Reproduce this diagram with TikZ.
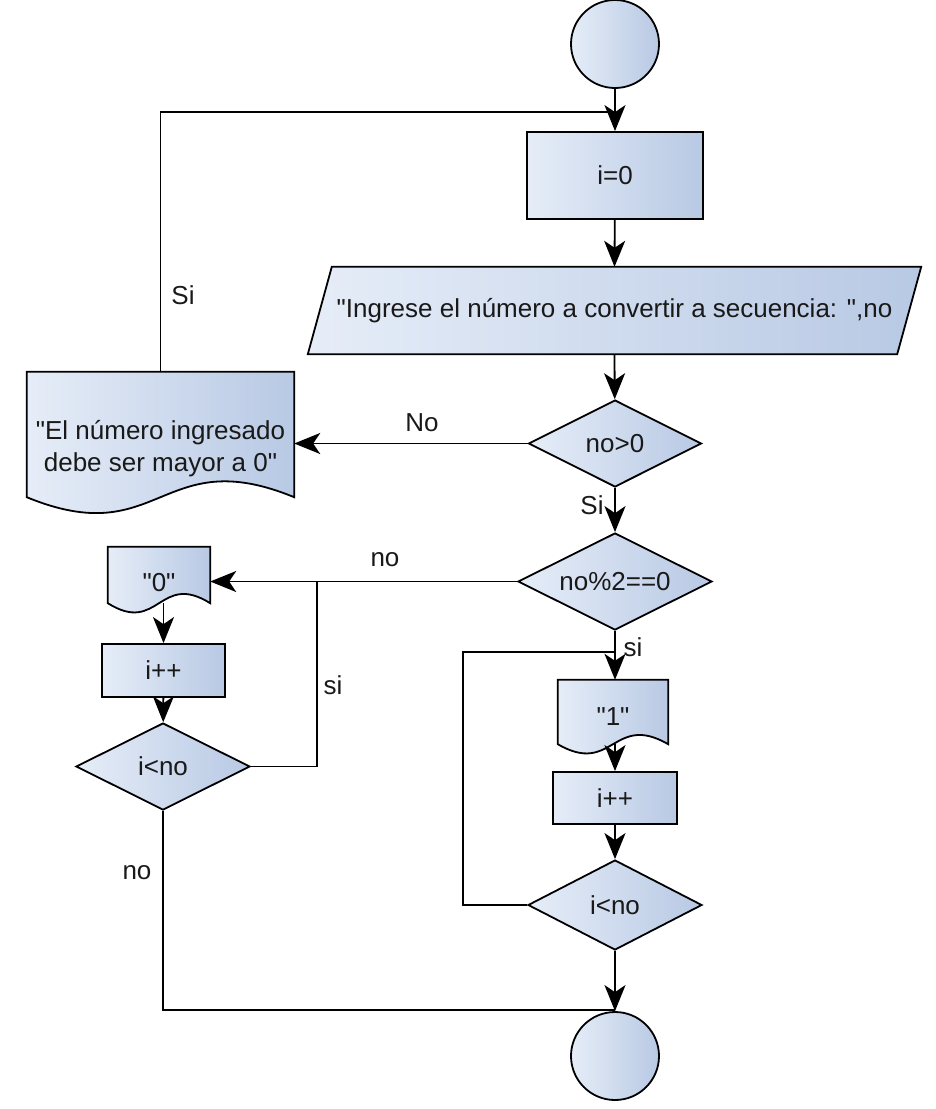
\documentclass[tikz,border=0pt]{standalone}
\usepackage{fontspec}
\setmainfont{Liberation Sans}
\usetikzlibrary{shapes.geometric,arrows.meta,calc,backgrounds}
\definecolor{fl}{RGB}{230,237,248}
\definecolor{fd}{RGB}{184,201,228}
\definecolor{tx}{RGB}{25,25,25}
\newcommand\mydocshape[3]{%
  \path[shp] (#1.north west) -- (#1.north east) -- ($(#1.south east)+(0,-#2)$)
    .. controls ($(#1.south)+(0,-#2-#3)$) and ($(#1.south)+(0,-#2+#3)$) ..
    ($(#1.south west)+(0,-#2)$) -- cycle;}
\newcommand\qq{\textquotedbl}
\begin{document}
\begin{tikzpicture}[x=1pt,y=-1pt,
  font=\fontsize{26}{32}\selectfont,
  shp/.style={draw=black, line width=1.8pt, left color=fl, right color=fd},
  boxnode/.style={shp, rectangle, inner sep=0pt, align=center, text=tx},
  dia/.style={shp, diamond, aspect=2, inner sep=0pt, text=tx},
  term/.style={shp, circle, minimum size=88pt, inner sep=0pt},
  ghost/.style={rectangle, inner sep=0pt, align=center, text=tx},
  arr/.style={line width=1.8pt, -{Stealth[length=26pt,width=21pt,inset=7pt]}},
  ln/.style={line width=1.8pt},
  lbl/.style={text=tx, inner sep=0pt}
]
\useasboundingbox (0,0) rectangle (935,1109);

% nodes
\node[term] (start) at (615,44) {};
\node[boxnode, minimum width=176pt, minimum height=87pt] (i0) at (615,175.5) {i=0};
\node[ghost, minimum width=589pt, minimum height=87pt] (inp) at (614.5,310.5) {\qq Ingrese el número a convertir a secuencia: \qq,no};
\node[dia, minimum width=173pt, minimum height=87pt] (d1) at (615,443.5) {no>0};
\node[ghost, minimum width=267pt, minimum height=153pt] (doc) at (160.5,448.5) {\qq El número ingresado\\debe ser mayor a 0\qq};
\node[dia, minimum width=194pt, minimum height=97pt] (d2) at (615,581.5) {no\%2==0};
\node[ghost, minimum width=102pt, minimum height=72pt] (doc0) at (159,583) {\qq 0\qq};
\node[boxnode, minimum width=123pt, minimum height=53pt] (inc1) at (163.5,670.5) {i++};
\node[dia, minimum width=174pt, minimum height=87pt] (d3) at (163,766.5) {i<no};
\node[ghost, minimum width=110pt, minimum height=74pt] (doc1) at (613,717) {\qq 1\qq};
\node[boxnode, minimum width=124pt, minimum height=52pt] (inc2) at (615,798) {i++};
\node[dia, minimum width=174pt, minimum height=90pt] (d4) at (615,905) {i<no};
\node[term] (stop) at (615,1056) {};

\coordinate (j1) at (615,112);
\coordinate (j2) at (317,581.5);
\coordinate (c1) at (463,652);
\coordinate (j3) at (615,652);
\coordinate (j4) at (615,1010);

\begin{scope}[on background layer]
  \path[shp] ($(inp.north west)+(12,0)$) -- ($(inp.north east)+(12,0)$)
    -- ($(inp.south east)+(-12,0)$) -- ($(inp.south west)+(-12,0)$) -- cycle;
  \mydocshape{doc}{28}{55}
  \mydocshape{doc0}{16}{32}
  \mydocshape{doc1}{10}{32}
\end{scope}

% connectors
\draw[arr] (start) -- (i0);
\draw[arr] (i0) -- (inp.north);
\draw[arr] (inp.south) -- (d1);
\draw[arr] (d1.west) -- (doc.east |- d1.west);
\draw[ln] (doc.north) |- (j1);
\draw[arr] (d1.south) -- (d2.north);
\draw[arr] (d2.west) -- (doc0.east |- d2.west);
\draw[arr] (doc0.south -| inc1.north) ++(0,-16) -- (inc1.north);
\draw[arr] (inc1) -- (d3);
\draw[ln] (d3.east) -| (j2);
\draw[arr] (d2.south) -- (d2.south |- doc1.north);
\draw[arr] (doc1.south -| inc2.north) ++(0,-10) -- (inc2.north);
\draw[arr] (inc2) -- (d4);
\draw[ln] (d4.west) -| (c1) -- (j3);
\draw[arr] (d4.south) -- (stop);
\draw[ln] (d3.south) |- (j4);

% labels
\node[lbl] (lsi1) at (183,295) {Si};
\node[lbl] (lno1) at (422,423) {No};
\node[lbl] (lsi2) at (592,505) {Si};
\node[lbl] (lno2) at (385,560) {no};
\node[lbl] (lsi3) at (333,685) {si};
\node[lbl] (lsi4) at (633,647) {si};
\node[lbl] (lno3) at (137,873) {no};
\end{tikzpicture}
\end{document}
